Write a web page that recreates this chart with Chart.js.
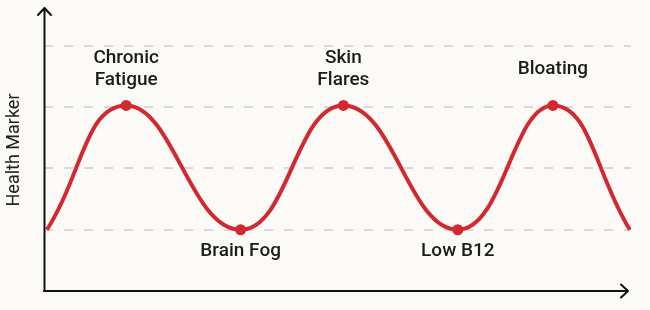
<!DOCTYPE html>
<html>
<head>
<meta charset="utf-8">
<script src="https://cdn.jsdelivr.net/npm/chart.js"></script>
<style>
  html, body { margin: 0; padding: 0; background: #fcfaf7; }
  #wrap { width: 650px; height: 310px; }
</style>
</head>
<body>
<div id="wrap"><canvas id="wave"></canvas></div>
<script>
// time position along the x axis (0-100) and health marker level
const timePos = [0.5, 14, 33.5, 51, 70.5, 86.7, 99.8];
const markerLevel = [1, 3.03, 1, 3.03, 1, 3.03, 1];
// label for each point ('' = unlabeled end of the curve)
const pointLabels = ['', 'Chronic\nFatigue', 'Brain Fog', 'Skin\nFlares', 'Low B12', 'Bloating', ''];
const yTitle = 'Health Marker';

const red = '#d1292f';

// axes with arrow heads, labels and the rotated y title
const decorations = {
    id: 'decorations',
    afterDatasetsDraw(chart) {
        const ctx = chart.ctx;
        const meta = chart.getDatasetMeta(0);

        ctx.save();
        ctx.strokeStyle = '#111';
        ctx.lineWidth = 2;
        ctx.lineCap = 'round';
        ctx.lineJoin = 'round';
        // y axis
        ctx.beginPath();
        ctx.moveTo(44.5, 291);
        ctx.lineTo(44.5, 8);
        ctx.moveTo(38, 15);
        ctx.lineTo(44.5, 8);
        ctx.lineTo(51, 15);
        ctx.stroke();
        // x axis
        ctx.beginPath();
        ctx.moveTo(44, 291);
        ctx.lineTo(628, 291);
        ctx.moveTo(621, 284.5);
        ctx.lineTo(628, 291);
        ctx.lineTo(621, 297.5);
        ctx.stroke();

        // point labels
        ctx.fillStyle = '#1b1b1b';
        ctx.font = '500 19px Roboto';
        ctx.textAlign = 'center';
        ctx.textBaseline = 'middle';
        pointLabels.forEach((label, i) => {
            if (!label) return;
            const pt = meta.data[i];
            const lines = label.split('\n');
            const lineH = 22;
            const isPeak = markerLevel[i] > 2;
            const center = isPeak ? pt.y - 36 : pt.y + 22;
            lines.forEach((line, j) => {
                const y = center + (j - (lines.length - 1) / 2) * lineH;
                ctx.fillText(line, pt.x, y);
            });
        });

        // y axis title
        ctx.font = '18px Roboto';
        ctx.fillStyle = '#222';
        ctx.translate(14, 150);
        ctx.rotate(-Math.PI / 2);
        ctx.fillText(yTitle, 0, 0);
        ctx.restore();
    }
};

const ctx = document.getElementById('wave').getContext('2d');
new Chart(ctx, {
    type: 'line',
    data: {
        datasets: [{
            data: timePos.map((x, i) => ({ x: x, y: markerLevel[i] })),
            borderColor: red,
            backgroundColor: red,
            borderWidth: 4,
            tension: 0.45,
            pointRadius: pointLabels.map(l => l ? 5.5 : 0),
            pointHoverRadius: 0,
            pointBorderWidth: 0,
            clip: false
        }]
    },
    options: {
        responsive: true,
        maintainAspectRatio: false,
        animation: false,
        layout: { padding: { left: 44, right: 19, top: 8, bottom: 19 } },
        plugins: {
            legend: { display: false },
            tooltip: { enabled: false }
        },
        scales: {
            x: {
                type: 'linear',
                min: 0,
                max: 100,
                display: false
            },
            y: {
                min: 0,
                max: 4.62,
                afterBuildTicks(scale) {
                    scale.ticks = [1, 2, 3, 4].map(v => ({ value: v }));
                },
                ticks: { display: false },
                border: { display: false, dash: [9, 11] },
                grid: {
                    color: '#d9d9d9',
                    lineWidth: 2,
                    drawTicks: false,
                    tickLength: 0
                },
                afterFit(scale) { scale.width = 0; }
            }
        }
    },
    plugins: [decorations]
});
</script>
</body>
</html>
